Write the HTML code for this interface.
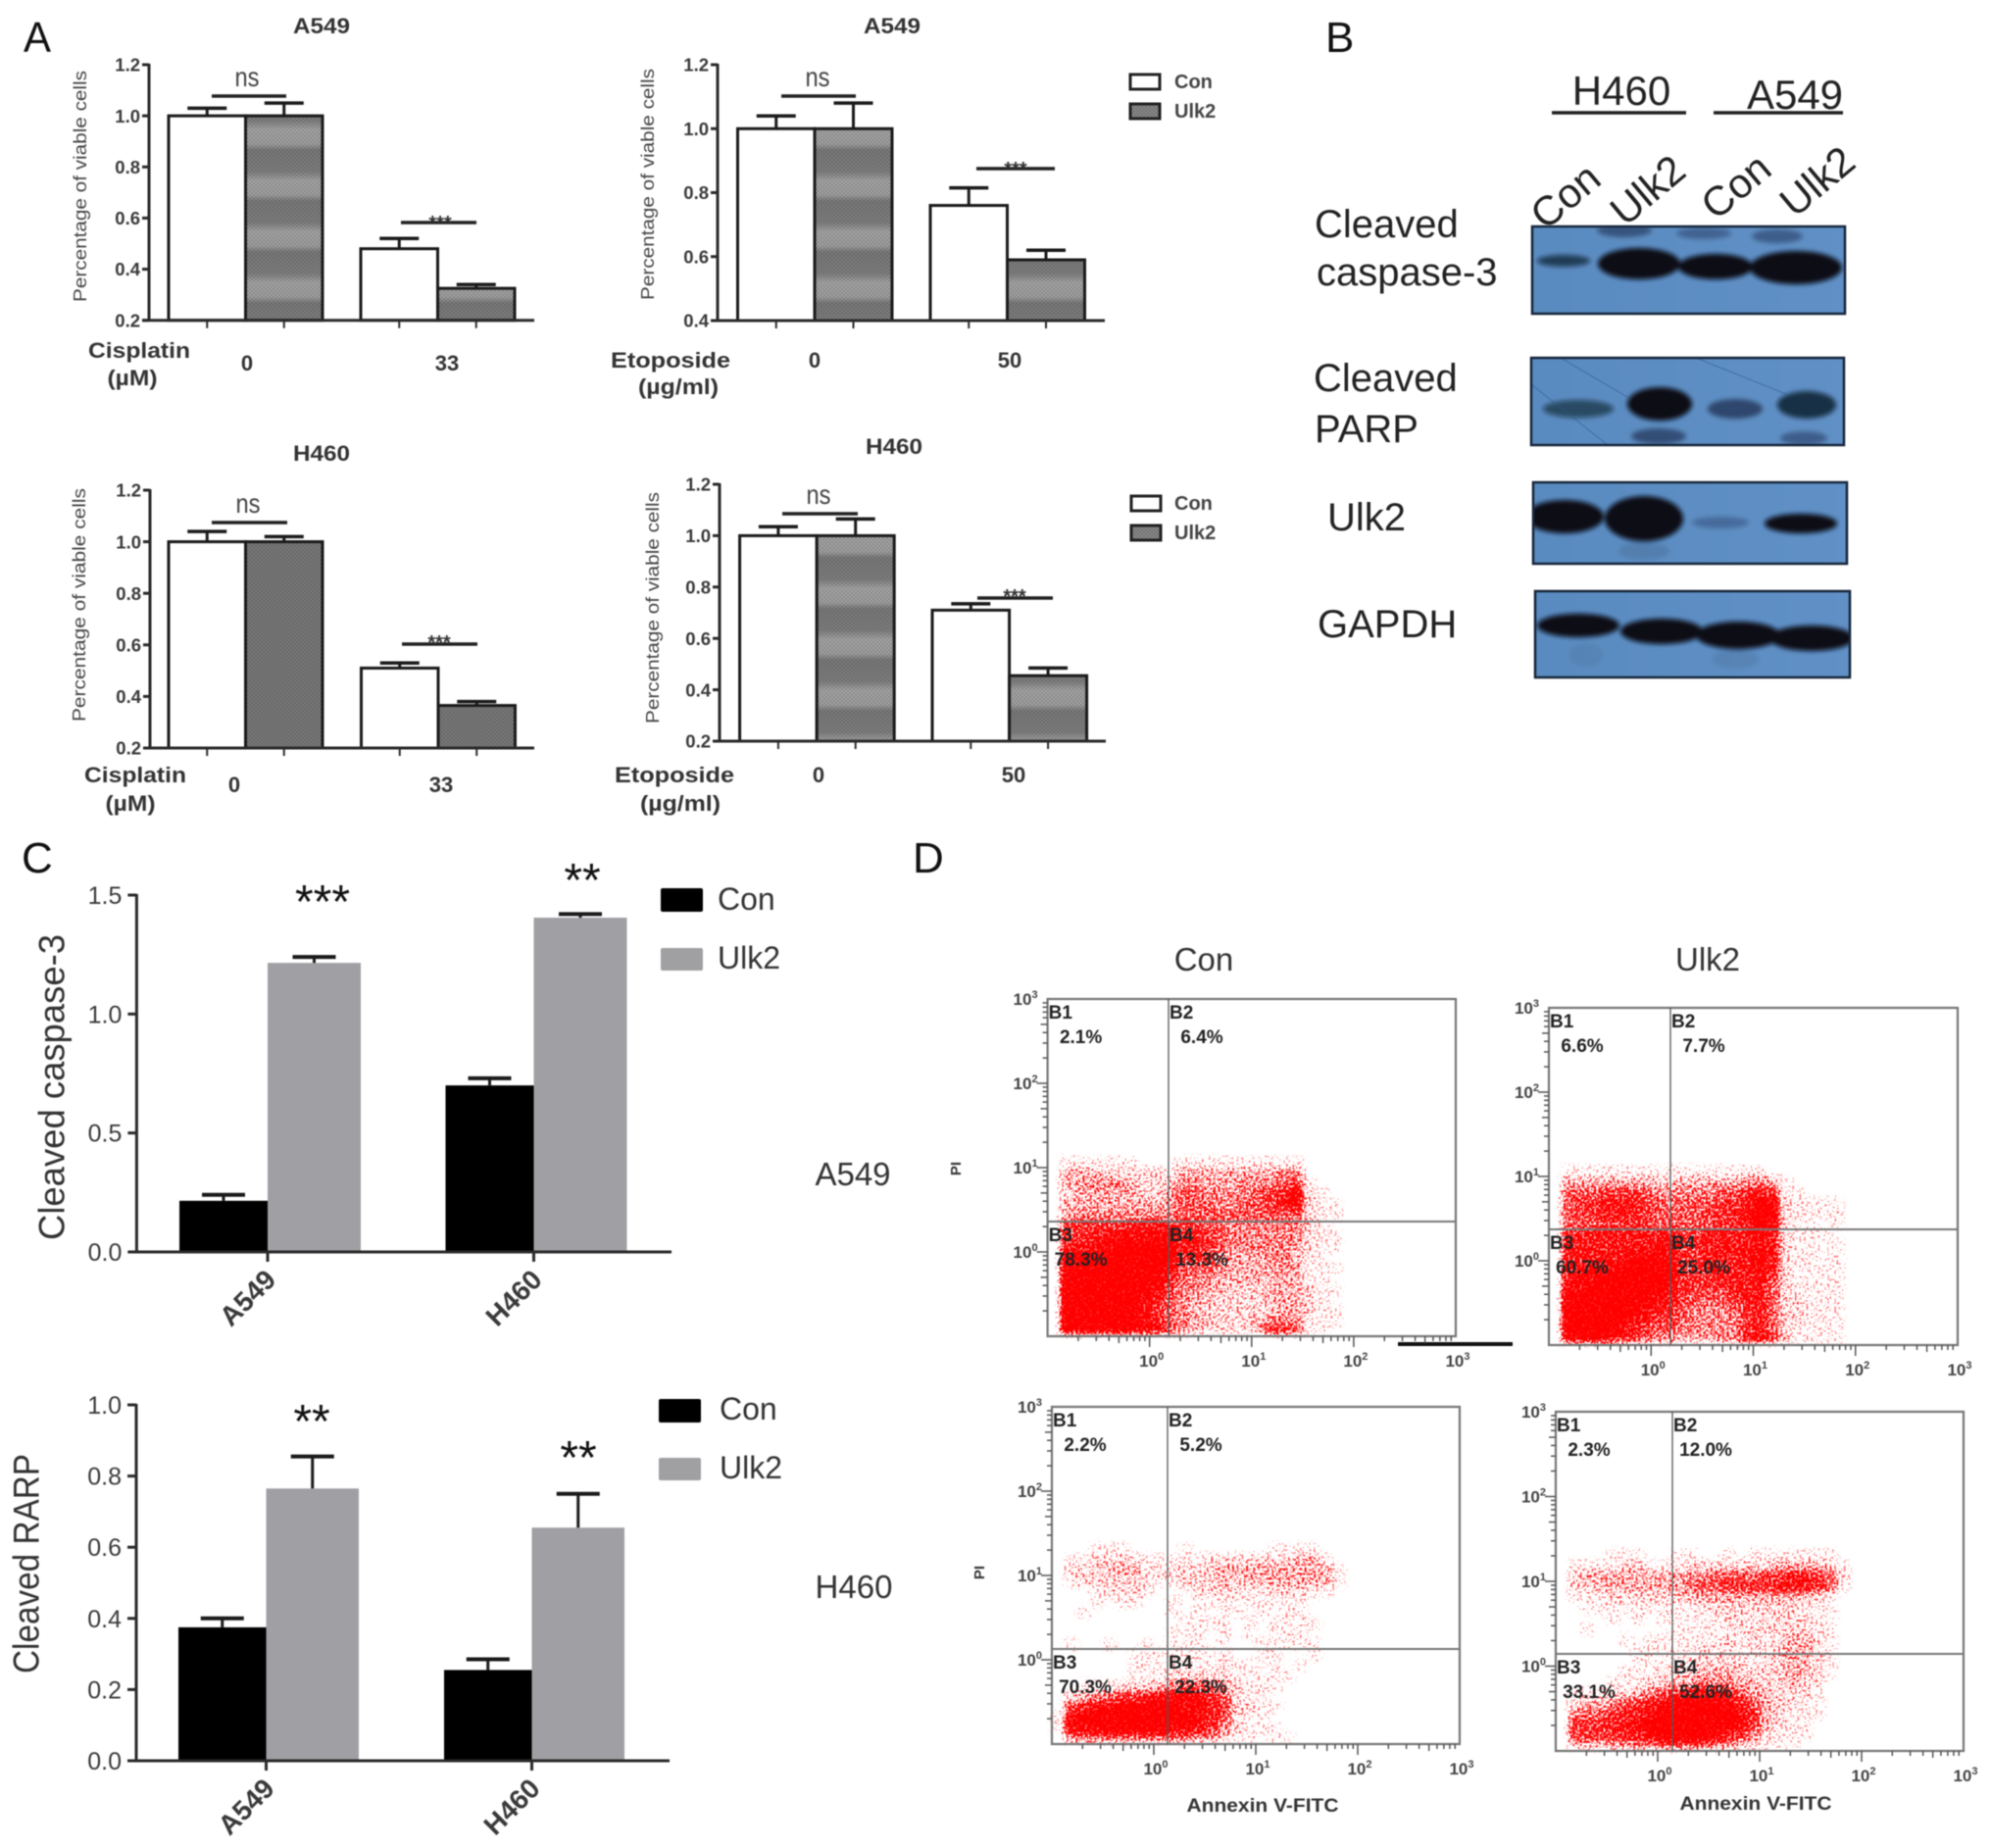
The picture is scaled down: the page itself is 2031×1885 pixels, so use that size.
<!DOCTYPE html>
<html lang="en">
<head>
<meta charset="utf-8">
<title>Ulk2 apoptosis figure</title>
<style>
html,body{margin:0;padding:0;background:#fff;}
#figure{display:block;width:2031px;height:1885px;filter:blur(.55px);font-family:"Liberation Sans",sans-serif;}
.letter{font-size:44px;fill:#111;}
.atitle{font-size:22px;font-weight:bold;fill:#333;text-anchor:middle;}
.aylabel{font-size:18px;fill:#444;text-anchor:middle;}
.alabel{font-size:22px;font-weight:bold;fill:#333;text-anchor:middle;}
.ns{font-size:28px;fill:#444;text-anchor:middle;}
.stars3{font-size:20px;font-weight:bold;fill:#333;text-anchor:middle;}
.alegend{font-size:20px;font-weight:bold;fill:#444;}
.blot-label{font-size:40px;fill:#222;}
.cstars{font-size:48px;fill:#111;text-anchor:middle;}
.clegend{font-size:32px;fill:#333;}
.cside{font-size:33px;fill:#333;text-anchor:middle;}
.cylabel{font-size:37px;fill:#333;text-anchor:middle;}
.dtitle{font-size:33px;fill:#333;text-anchor:middle;}
.dlabel{font-size:19px;font-weight:bold;fill:#333;text-anchor:middle;}
</style>
</head>
<body>
<svg id="figure" width="2031" height="1885" viewBox="0 0 2031 1885">
<defs>
  <linearGradient id="bandGrad" x1="0" y1="0" x2="0" y2="1">
    <stop offset="0" stop-color="#7d7d7d"/><stop offset=".42" stop-color="#828282"/>
    <stop offset=".6" stop-color="#a8a8a8"/><stop offset=".88" stop-color="#a4a4a4"/><stop offset="1" stop-color="#7d7d7d"/>
  </linearGradient>
  <pattern id="bands" width="8" height="52" patternUnits="userSpaceOnUse" patternTransform="translate(0,-3)"><rect width="8" height="52" fill="url(#bandGrad)"/></pattern>
  <pattern id="checker" width="4" height="4" patternUnits="userSpaceOnUse"><rect width="2" height="2" fill="#000" opacity=".18"/><rect x="2" y="2" width="2" height="2" fill="#000" opacity=".18"/></pattern>
  <linearGradient id="blotBg" x1="0" y1="0" x2="1" y2="0"><stop offset="0" stop-color="#5a8bc0"/><stop offset="1" stop-color="#6090c6"/></linearGradient>
  <filter id="bandBlur" x="-20%" y="-50%" width="140%" height="200%"><feGaussianBlur stdDeviation="2.4"/></filter>
  <filter id="speckle" filterUnits="userSpaceOnUse" x="1040" y="1000" width="980" height="800" color-interpolation-filters="sRGB">
    <feGaussianBlur in="SourceGraphic" stdDeviation="3" result="soft"/>
    <feComponentTransfer in="soft" result="mask"><feFuncA type="linear" slope="25"/></feComponentTransfer>
    <feTurbulence type="fractalNoise" baseFrequency="0.42" numOctaves="2" seed="4" result="noise"/>
    <feColorMatrix in="noise" type="matrix" values="0 0 0 0 0 0 0 0 0 0 0 0 0 0 0 2.6 0 0 0 -0.8" result="noiseAlpha"/>
    <feComposite in="soft" in2="noiseAlpha" operator="arithmetic" k1="0" k2="1.3" k3="1" k4="-0.85" result="sum"/>
    <feColorMatrix in="sum" type="matrix" values="0 0 0 0 1 0 0 0 0 0 0 0 0 0 0 0 0 0 1.8 0" result="colored"/>
    <feComposite in="colored" in2="mask" operator="in"/>
  </filter>
  <clipPath id="clip1"><rect x="1563" y="231" width="319" height="89"/></clipPath>
  <clipPath id="clip2"><rect x="1562" y="365" width="319" height="89"/></clipPath>
  <clipPath id="clip3"><rect x="1564" y="492" width="320" height="83"/></clipPath>
  <clipPath id="clip4"><rect x="1566" y="603" width="321" height="88"/></clipPath>
</defs>
<rect width="2031" height="1885" fill="#fff"/>

<!-- Panel letters -->
<text class="letter" x="24" y="53" textLength="28" lengthAdjust="spacingAndGlyphs">A</text>
<text class="letter" x="1352" y="53">B</text>
<text class="letter" x="22" y="890">C</text>
<text class="letter" x="931" y="890">D</text>

<!-- Panel A static labels -->
<g id="panelA-labels">
  <text class="atitle" x="328" y="34" textLength="58" lengthAdjust="spacingAndGlyphs">A549</text>
  <text class="atitle" x="910" y="34" textLength="58" lengthAdjust="spacingAndGlyphs">A549</text>
  <text class="atitle" x="328" y="470" textLength="58" lengthAdjust="spacingAndGlyphs">H460</text>
  <text class="atitle" x="912" y="463" textLength="58" lengthAdjust="spacingAndGlyphs">H460</text>

  <text class="aylabel" transform="translate(88,190) rotate(-90)" textLength="236" lengthAdjust="spacingAndGlyphs">Percentage of viable cells</text>
  <text class="aylabel" transform="translate(667,188) rotate(-90)" textLength="236" lengthAdjust="spacingAndGlyphs">Percentage of viable cells</text>
  <text class="aylabel" transform="translate(87,617) rotate(-90)" textLength="238" lengthAdjust="spacingAndGlyphs">Percentage of viable cells</text>
  <text class="aylabel" transform="translate(672,620) rotate(-90)" textLength="236" lengthAdjust="spacingAndGlyphs">Percentage of viable cells</text>

  <text class="alabel" x="142" y="365" textLength="104" lengthAdjust="spacingAndGlyphs">Cisplatin</text>
  <text class="alabel" x="135" y="393" textLength="51" lengthAdjust="spacingAndGlyphs">(µM)</text>
  <text class="alabel" x="252" y="378">0</text>
  <text class="alabel" x="456" y="378">33</text>

  <text class="alabel" x="684" y="375" textLength="122" lengthAdjust="spacingAndGlyphs">Etoposide</text>
  <text class="alabel" x="692" y="402" textLength="82" lengthAdjust="spacingAndGlyphs">(µg/ml)</text>
  <text class="alabel" x="831" y="375">0</text>
  <text class="alabel" x="1030" y="375">50</text>

  <text class="alabel" x="138" y="798" textLength="104" lengthAdjust="spacingAndGlyphs">Cisplatin</text>
  <text class="alabel" x="133" y="827" textLength="51" lengthAdjust="spacingAndGlyphs">(µM)</text>
  <text class="alabel" x="239" y="808">0</text>
  <text class="alabel" x="450" y="808">33</text>

  <text class="alabel" x="688" y="798" textLength="122" lengthAdjust="spacingAndGlyphs">Etoposide</text>
  <text class="alabel" x="694" y="827" textLength="82" lengthAdjust="spacingAndGlyphs">(µg/ml)</text>
  <text class="alabel" x="835" y="798">0</text>
  <text class="alabel" x="1034" y="798">50</text>

  <!-- significance -->
  <g stroke="#222" stroke-width="3.5">
    <line x1="216" y1="98" x2="292" y2="98"/>
    <line x1="409" y1="227" x2="486" y2="227"/>
    <line x1="797" y1="98" x2="873" y2="98"/>
    <line x1="996" y1="172" x2="1076" y2="172"/>
    <line x1="216" y1="533" x2="293" y2="533"/>
    <line x1="410" y1="657" x2="487" y2="657"/>
    <line x1="798" y1="524" x2="875" y2="524"/>
    <line x1="997" y1="610" x2="1074" y2="610"/>
  </g>
  <text class="ns" x="252" y="88" textLength="25" lengthAdjust="spacingAndGlyphs">ns</text>
  <text class="ns" x="834" y="88" textLength="25" lengthAdjust="spacingAndGlyphs">ns</text>
  <text class="ns" x="253" y="523" textLength="25" lengthAdjust="spacingAndGlyphs">ns</text>
  <text class="ns" x="835" y="514" textLength="25" lengthAdjust="spacingAndGlyphs">ns</text>
  <text class="stars3" x="449" y="234">***</text>
  <text class="stars3" x="1036" y="179">***</text>
  <text class="stars3" x="448" y="662">***</text>
  <text class="stars3" x="1035" y="615">***</text>

  <!-- legends -->
  <g>
    <rect x="1153" y="76" width="30" height="15" fill="#fff" stroke="#222" stroke-width="3"/>
    <text class="alegend" x="1198" y="90">Con</text>
    <rect x="1153" y="106" width="30" height="15" fill="#8a8a8a" stroke="#222" stroke-width="3"/>
    <rect x="1153" y="106" width="30" height="15" fill="url(#checker)"/>
    <text class="alegend" x="1198" y="120">Ulk2</text>
  </g>
  <g>
    <rect x="1154" y="506" width="30" height="15" fill="#fff" stroke="#222" stroke-width="3"/>
    <text class="alegend" x="1198" y="520">Con</text>
    <rect x="1154" y="536" width="30" height="15" fill="#8a8a8a" stroke="#222" stroke-width="3"/>
    <rect x="1154" y="536" width="30" height="15" fill="url(#checker)"/>
    <text class="alegend" x="1198" y="550">Ulk2</text>
  </g>
</g>

<!-- Panel B -->
<g id="panelB">
  <text x="1654" y="107" font-size="42" fill="#222" text-anchor="middle">H460</text>
  <text x="1831" y="111" font-size="42" fill="#222" text-anchor="middle">A549</text>
  <line x1="1583" y1="115" x2="1720" y2="115" stroke="#222" stroke-width="3.5"/>
  <line x1="1748" y1="115" x2="1880" y2="115" stroke="#222" stroke-width="3.5"/>
  <text transform="translate(1606,211) rotate(-40)" font-size="42" fill="#222" text-anchor="middle">Con</text>
  <text transform="translate(1690,205) rotate(-40)" font-size="42" fill="#222" text-anchor="middle">Ulk2</text>
  <text transform="translate(1780,201) rotate(-40)" font-size="42" fill="#222" text-anchor="middle">Con</text>
  <text transform="translate(1863,196) rotate(-40)" font-size="42" fill="#222" text-anchor="middle">Ulk2</text>

  <text class="blot-label" x="1341" y="242">Cleaved</text>
  <text class="blot-label" x="1343" y="291">caspase-3</text>
  <text class="blot-label" x="1340" y="399">Cleaved</text>
  <text class="blot-label" x="1341" y="451">PARP</text>
  <text class="blot-label" x="1354" y="541">Ulk2</text>
  <text class="blot-label" x="1344" y="650">GAPDH</text>

  <rect x="1563" y="231" width="319" height="89" fill="url(#blotBg)"/>
  <g clip-path="url(#clip1)"><g filter="url(#bandBlur)" fill="#070c18">
    <ellipse cx="1595" cy="266" rx="27" ry="6" opacity=".65"/><ellipse cx="1672" cy="269" rx="42" ry="16"/>
    <ellipse cx="1750" cy="272" rx="38" ry="13"/><ellipse cx="1832" cy="273" rx="47" ry="17"/>
    <ellipse cx="1657" cy="235" rx="28" ry="7" opacity=".4"/><ellipse cx="1738" cy="238" rx="28" ry="6" opacity=".3"/><ellipse cx="1813" cy="241" rx="26" ry="7" opacity=".35"/>
  </g></g>
  <rect x="1563" y="231" width="319" height="89" fill="none" stroke="#16263a" stroke-width="2.5"/>

  <rect x="1562" y="365" width="319" height="89" fill="url(#blotBg)"/>
  <g clip-path="url(#clip2)"><g filter="url(#bandBlur)" fill="#070c18">
    <ellipse cx="1610" cy="417" rx="36" ry="9" opacity=".55"/><ellipse cx="1693" cy="412" rx="33" ry="17"/>
    <ellipse cx="1770" cy="417" rx="28" ry="10" opacity=".5"/><ellipse cx="1843" cy="413" rx="30" ry="14" opacity=".75"/>
    <ellipse cx="1692" cy="445" rx="28" ry="8" opacity=".45"/><ellipse cx="1840" cy="447" rx="24" ry="7" opacity=".35"/>
  </g>
  <path d="M1562 392 L1640 454 M1592 365 L1660 405 M1730 365 L1822 402" stroke="#2c5a90" stroke-width="1" fill="none" opacity=".6"/></g>
  <rect x="1562" y="365" width="319" height="89" fill="none" stroke="#16263a" stroke-width="2.5"/>

  <rect x="1564" y="492" width="320" height="83" fill="url(#blotBg)"/>
  <g clip-path="url(#clip3)"><g filter="url(#bandBlur)" fill="#070c18">
    <ellipse cx="1596" cy="527" rx="40" ry="17"/><ellipse cx="1677" cy="529" rx="40" ry="23"/>
    <ellipse cx="1755" cy="533" rx="29" ry="6" opacity=".25"/><ellipse cx="1837" cy="534" rx="37" ry="10"/>
    <ellipse cx="1677" cy="562" rx="26" ry="9" opacity=".1"/>
  </g></g>
  <rect x="1564" y="492" width="320" height="83" fill="none" stroke="#16263a" stroke-width="2.5"/>

  <rect x="1566" y="603" width="321" height="88" fill="url(#blotBg)"/>
  <g clip-path="url(#clip4)"><g filter="url(#bandBlur)" fill="#070c18">
    <ellipse cx="1610" cy="638" rx="42" ry="12"/><ellipse cx="1695" cy="644" rx="42" ry="13"/>
    <ellipse cx="1773" cy="648" rx="43" ry="14"/><ellipse cx="1848" cy="651" rx="43" ry="13"/>
    <ellipse cx="1618" cy="668" rx="18" ry="12" opacity=".06"/><ellipse cx="1770" cy="672" rx="24" ry="10" opacity=".08"/>
  </g></g>
  <rect x="1566" y="603" width="321" height="88" fill="none" stroke="#16263a" stroke-width="2.5"/>
</g>

<!-- Panel C static -->
<g id="panelC-labels">
  <text class="cylabel" transform="translate(65.5,1109) rotate(-90)" textLength="312" lengthAdjust="spacingAndGlyphs">Cleaved caspase-3</text>
  <text class="cylabel" transform="translate(39.5,1595) rotate(-90)" textLength="224" lengthAdjust="spacingAndGlyphs">Cleaved RARP</text>
  <text class="cstars" x="329" y="936">***</text>
  <text class="cstars" x="594" y="914">**</text>
  <text class="cstars" x="318" y="1466">**</text>
  <text class="cstars" x="590" y="1503">**</text>

  <rect x="674" y="906" width="43" height="24" rx="2" fill="#000"/>
  <text class="clegend" x="732" y="928">Con</text>
  <rect x="674" y="967" width="43" height="23" rx="2" fill="#a0a0a2"/>
  <text class="clegend" x="732" y="988">Ulk2</text>
  <rect x="672" y="1427" width="43" height="24" rx="2" fill="#000"/>
  <text class="clegend" x="734" y="1448">Con</text>
  <rect x="672" y="1487" width="43" height="23" rx="2" fill="#a0a0a2"/>
  <text class="clegend" x="734" y="1508">Ulk2</text>

  <text class="cside" x="870" y="1209">A549</text>
  <text class="cside" x="871" y="1630">H460</text>
</g>

<!-- Panel D static -->
<g id="panelD-labels">
  <text class="dtitle" x="1228" y="990">Con</text>
  <text class="dtitle" x="1742" y="990">Ulk2</text>
  <text transform="translate(980,1192) rotate(-90)" font-size="15" font-weight="bold" fill="#333" text-anchor="middle">PI</text>
  <text transform="translate(1004,1604) rotate(-90)" font-size="15" font-weight="bold" fill="#333" text-anchor="middle">PI</text>
  <text class="dlabel" x="1288" y="1848" textLength="155" lengthAdjust="spacingAndGlyphs">Annexin V-FITC</text>
  <text class="dlabel" x="1791" y="1846" textLength="155" lengthAdjust="spacingAndGlyphs">Annexin V-FITC</text>
  <line x1="1426" y1="1371" x2="1543" y2="1371" stroke="#111" stroke-width="4"/>
</g>

<g id="charts"></g>
</svg>

<script>
/* ---------- Panel A data ---------- */
const barCategories = ['Con', 'Ulk2', 'Con', 'Ulk2'];
const a549CisplatinValues = [1.0, 1.0, 0.48, 0.325];
const a549CisplatinErrors = [1.03, 1.05, 0.52, 0.34];
const a549EtoposideValues = [1.0, 1.0, 0.76, 0.59];
const a549EtoposideErrors = [1.04, 1.08, 0.815, 0.62];
const h460CisplatinValues = [1.0, 1.0, 0.51, 0.365];
const h460CisplatinErrors = [1.04, 1.02, 0.53, 0.38];
const h460EtoposideValues = [1.0, 1.0, 0.71, 0.455];
const h460EtoposideErrors = [1.035, 1.065, 0.735, 0.485];
const yTicksCisplatin = [0.2, 0.4, 0.6, 0.8, 1.0, 1.2];
const yTicksEtoposideA549 = [0.4, 0.6, 0.8, 1.0, 1.2];
const yTicksEtoposideH460 = [0.2, 0.4, 0.6, 0.8, 1.0, 1.2];

/* ---------- Panel C data ---------- */
const cellLines = ['A549', 'H460'];
const caspaseValues = [0.215, 1.215, 0.70, 1.405];
const caspaseErrors = [0.24, 1.24, 0.73, 1.42];
const rarpValues = [0.375, 0.765, 0.255, 0.655];
const rarpErrors = [0.40, 0.855, 0.285, 0.75];
const yTicksCaspase = [0.0, 0.5, 1.0, 1.5];
const yTicksRarp = [0.0, 0.2, 0.4, 0.6, 0.8, 1.0];

/* ---------- Panel D data: cell density, scale 0-9.
   Columns step 1/8 decade from 10^-1; rows step 1/8 decade down from 10^1.5 */
const logTickExponents = [0, 1, 2, 3];
const quadrantNames = ['B1', 'B2', 'B3', 'B4'];
const quadrantA549Con = ['2.1%', '6.4%', '78.3%', '13.3%'];
const quadrantA549Ulk2 = ['6.6%', '7.7%', '60.7%', '25.0%'];
const quadrantH460Con = ['2.2%', '5.2%', '70.3%', '22.3%'];
const quadrantH460Ulk2 = ['2.3%', '12.0%', '33.1%', '52.6%'];

const densityA549Con = [
[0,0,0,0,0,0,0,0,0,0,0,0,0,0,0,0,0,0,0,0,0,0,0,0],
[0,0,0,0,0,0,0,0,0,0,0,0,0,0,0,0,0,0,0,0,0,0,0,0],
[0,0,0,0,0,0,0,0,0,0,0,0,0,0,0,0,0,0,0,0,0,0,0,0],
[0,1,1,1,1,1,1,0,0,0,1,1,1,1,1,1,1,1,1,1,0,0,0,0],
[0,3,3,3,2,2,2,2,2,1,3,3,3,3,3,3,3,3,4,4,0,0,0,0],
[0,3,3,4,4,4,3,2,2,2,4,4,3,3,3,4,4,4,5,6,1,0,0,0],
[0,2,3,3,3,3,3,2,2,3,5,5,4,4,4,4,5,6,7,8,2,1,0,0],
[0,3,3,3,3,3,3,3,3,3,5,5,5,4,4,5,5,6,7,8,2,1,1,0],
[0,3,4,4,4,4,4,4,4,4,5,5,5,5,5,5,5,5,5,5,2,1,1,0],
[0,6,6,6,6,6,7,7,7,7,6,6,5,5,4,4,4,4,4,4,2,1,0,0],
[0,6,6,7,7,8,8,8,8,8,7,7,6,5,4,4,4,4,4,4,2,1,1,0],
[0,7,7,8,8,9,9,9,9,9,7,7,6,5,4,4,4,4,4,3,2,1,1,0],
[0,9,9,9,9,9,9,9,9,9,6,6,6,4,3,3,3,4,4,3,1,1,0,0],
[0,9,9,9,9,9,9,9,9,8,5,5,5,4,3,3,3,3,4,3,1,1,1,0],
[0,9,9,9,9,9,9,9,9,7,5,4,4,3,3,3,3,3,3,3,1,1,0,0],
[0,9,9,9,9,9,9,9,8,6,4,4,3,3,2,2,2,3,3,3,2,1,1,0],
[0,9,9,9,9,9,9,8,7,5,4,3,3,2,2,2,2,3,3,3,2,1,0,0],
[0,9,9,9,9,9,9,8,6,5,4,3,2,2,2,2,2,2,3,3,2,1,1,0],
[0,9,9,9,9,9,9,8,7,5,4,3,3,2,2,2,3,4,4,4,1,1,1,0],
[0,9,9,9,9,9,9,8,8,6,4,3,2,2,2,2,3,7,7,5,1,1,0,0]];

const densityA549Ulk2 = [
[0,0,0,0,0,0,0,0,0,0,0,0,0,0,0,0,0,0,0,0,0,0,0,0],
[0,0,0,0,0,0,0,0,0,0,0,0,0,0,0,0,0,0,0,0,0,0,0,0],
[0,0,0,0,0,0,0,0,0,0,0,0,0,0,0,0,0,0,0,0,0,0,0,0],
[0,1,1,1,1,1,1,1,1,1,1,1,1,1,1,1,1,0,0,0,0,0,0,0],
[0,3,3,3,3,3,3,3,2,2,3,3,3,3,3,4,4,3,1,0,0,0,0,0],
[0,5,5,5,6,6,6,5,4,4,4,4,4,5,5,6,7,6,1,1,0,0,0,0],
[0,5,6,6,7,7,7,6,5,4,5,5,5,6,6,7,9,8,2,1,1,1,1,0],
[0,5,6,6,7,7,7,6,5,5,5,5,6,6,7,8,9,9,2,1,1,1,1,0],
[0,5,5,5,6,6,6,6,5,5,5,5,5,6,6,7,9,8,2,1,1,0,1,0],
[0,6,7,7,7,7,7,7,7,7,6,6,7,7,7,7,8,7,2,1,1,1,0,0],
[0,7,7,7,7,7,7,7,8,8,6,6,7,7,7,7,8,7,2,1,1,1,1,0],
[0,7,7,7,7,7,8,8,8,8,6,6,7,7,7,7,8,7,2,1,1,0,1,0],
[0,7,7,8,8,8,9,9,9,9,6,6,7,7,7,7,8,7,2,1,1,1,1,0],
[0,7,8,8,9,9,9,9,9,9,6,6,6,7,7,7,8,6,2,1,1,1,1,0],
[0,8,8,9,9,9,9,9,9,8,6,6,6,6,7,7,7,5,2,1,1,1,1,0],
[0,9,9,9,9,9,9,9,8,7,6,5,5,5,6,7,7,5,2,2,1,1,1,0],
[0,9,9,9,9,9,9,8,7,7,5,4,4,4,5,6,7,5,2,2,1,1,1,0],
[0,9,9,9,9,9,8,7,6,6,5,4,4,4,4,6,7,5,2,2,1,1,1,0],
[0,9,9,9,9,8,7,6,5,5,4,4,4,4,4,6,7,5,2,1,1,1,1,0],
[0,8,9,9,8,7,6,5,4,4,3,3,3,4,4,7,8,6,3,1,1,1,1,0]];

const densityH460Con = [
[0,0,0,0,0,0,0,0,0,0,0,0,0,0,0,0,0,0,0,0,0,0,0,0],
[0,0,0,1,1,1,0,0,0,0,1,0,0,0,0,0,0,1,1,1,1,0,0,0],
[0,1,1,2,2,2,2,1,1,1,1,1,2,2,2,2,2,2,2,3,3,1,0,0],
[0,2,2,2,3,3,3,1,2,2,2,2,2,3,3,3,3,3,3,3,3,3,1,0],
[0,1,2,2,2,2,2,2,1,1,2,2,2,3,2,3,3,3,3,3,3,3,1,0],
[0,0,0,1,2,2,2,1,0,0,1,2,2,2,2,1,1,2,2,2,1,1,0,0],
[0,0,0,1,0,1,1,0,0,1,0,1,1,1,1,1,1,1,1,1,0,0,0,0],
[0,0,1,0,0,0,0,0,0,1,0,1,0,1,1,0,1,0,1,1,0,0,0,0],
[0,0,0,0,0,0,0,0,0,0,1,1,1,1,0,1,0,1,1,1,1,0,0,0],
[0,0,0,0,0,0,0,0,0,1,1,1,0,1,0,1,0,1,1,1,0,0,0,0],
[0,1,0,0,1,0,0,1,0,1,1,1,0,1,0,0,1,1,1,1,1,0,0,0],
[0,0,0,0,0,0,1,1,1,1,1,1,1,1,0,0,1,1,0,0,1,0,0,0],
[0,0,0,0,0,0,1,1,1,1,1,1,1,2,1,1,0,1,0,1,0,0,0,0],
[0,0,0,0,0,0,1,1,1,2,2,2,2,2,1,1,1,1,1,0,0,0,0,0],
[0,0,1,1,1,2,2,2,3,4,5,5,5,3,2,1,1,1,0,0,0,0,0,0],
[0,2,3,4,5,6,6,7,8,8,8,8,6,5,2,1,1,0,0,0,0,0,0,0],
[0,6,7,8,8,9,9,9,9,9,8,8,7,6,2,2,1,1,0,0,0,0,0,0],
[1,8,9,9,9,9,9,9,9,9,9,8,7,5,2,1,1,0,0,0,0,0,0,0],
[1,8,8,8,9,9,9,9,9,8,8,7,6,4,2,1,1,1,0,0,0,0,0,0],
[0,4,5,5,5,5,5,5,5,5,5,4,4,2,1,1,0,1,1,0,0,0,0,0]];

const densityH460Ulk2 = [
[0,0,0,0,0,0,0,0,0,0,0,0,0,0,0,0,0,0,0,0,0,0,0,0],
[0,0,0,0,1,1,1,0,0,1,1,0,0,1,0,1,1,1,1,1,1,1,0,0],
[0,1,1,1,1,2,2,1,1,1,2,2,2,2,2,2,2,3,3,3,3,2,1,0],
[0,2,3,3,3,3,3,3,3,3,4,4,5,5,5,5,6,6,7,7,6,5,2,0],
[0,2,2,3,3,3,3,3,3,3,4,5,5,6,6,6,6,7,7,7,6,5,1,0],
[0,1,1,1,2,2,2,2,2,2,3,3,3,3,3,3,3,3,3,3,2,1,0,0],
[0,0,1,1,1,1,1,1,1,1,1,1,2,2,2,2,2,2,2,1,1,1,0,0],
[0,0,0,0,1,0,1,0,1,1,1,1,1,2,2,1,2,2,2,2,1,1,0,0],
[0,0,1,0,0,0,0,0,0,1,1,1,1,1,2,2,2,2,2,2,1,1,0,0],
[0,0,0,0,0,1,0,1,1,1,1,1,1,2,1,2,1,2,3,3,2,1,0,0],
[0,0,0,0,0,0,1,1,1,1,1,2,2,2,1,2,2,2,3,3,2,1,0,0],
[0,0,0,0,0,0,1,1,1,1,2,2,2,2,2,1,2,2,3,3,2,1,0,0],
[0,0,0,0,0,1,1,1,2,2,2,3,3,3,2,2,2,2,3,3,2,1,0,0],
[0,0,0,0,1,1,1,2,2,3,3,4,4,4,3,3,2,2,3,2,2,0,0,0],
[0,1,1,1,2,2,3,4,5,6,7,8,7,6,5,3,3,2,2,2,1,0,0,0],
[0,2,3,3,4,5,6,7,8,9,9,9,9,8,7,5,3,2,2,1,1,0,0,0],
[0,4,5,5,6,7,7,8,9,9,9,9,9,9,8,6,3,2,1,1,1,0,0,0],
[0,6,6,6,7,7,8,9,9,9,9,9,9,9,8,6,3,2,1,1,0,0,0,0],
[0,6,6,6,6,7,7,8,9,9,9,9,8,7,6,4,2,1,1,1,0,0,0,0],
[0,3,3,3,4,4,5,5,6,6,6,6,5,4,3,2,1,1,1,0,0,0,0,0]];

/* ---------- Drawing ---------- */
const figure = document.getElementById('figure');
const NS = figure.namespaceURI;
const root = document.getElementById('charts');

function make(tag, attrs, parent) {
  const node = document.createElementNS(NS, tag);
  for (const k in attrs) node.setAttribute(k, attrs[k]);
  parent.appendChild(node);
  return node;
}
function linearScale(domainMin, domainMax, pxMin, pxMax) {
  return v => pxMin + (v - domainMin) / (domainMax - domainMin) * (pxMax - pxMin);
}

function drawBarChart(name, frame, values, errors, ticks, style) {
  const g = make('g', {}, root);
  
  
  const y = linearScale(ticks[0], ticks[ticks.length - 1], frame.bottom, frame.top);
  const edge = i => frame.left + Math.floor(i / 2) * frame.pitch + (i % 2 ? frame.w0 : 0);
  const width = i => (i % 2 ? frame.w1 : frame.w0);

  values.forEach((v, i) => {
    const x = edge(i);
    const w = width(i);
    const top = y(v);
    const mid = x + w / 2;
    const isUlk2 = i % 2 === 1;
    const fill = style.filled
      ? (isUlk2 ? '#a0a0a4' : '#000')
      : (isUlk2 ? style.hatch : '#fff');
    const bar = make('rect', {x: x, y: top, width: w, height: frame.bottom - top, fill: fill}, g);
    
    
    if (!style.filled && isUlk2) {
      const tex = make('rect', {x: x, y: top, width: w, height: frame.bottom - top, fill: 'url(#checker)'}, g);
      
      
    }
    if (!style.filled) {
      const outline = make('rect', {x: x, y: top, width: w, height: frame.bottom - top, fill: 'none', stroke: '#1a1a1a', 'stroke-width': 3}, g);
      
      
    }
    const errTop = y(errors[i]);
    const stem = make('line', {x1: mid, x2: mid, y1: top, y2: errTop, stroke: '#1a1a1a', 'stroke-width': 3}, g);
    
    
    const cap = make('line', {x1: mid - style.cap, x2: mid + style.cap, y1: errTop, y2: errTop, stroke: '#1a1a1a', 'stroke-width': style.capW}, g);
    
    
  });

  const yAxis = make('line', {x1: frame.axis, x2: frame.axis, y1: frame.top - 1, y2: frame.bottom, stroke: '#2a2a2a', 'stroke-width': style.axisW}, g);
  
  
  const xAxis = make('line', {x1: frame.axis - style.tickLen, x2: frame.end, y1: frame.bottom, y2: frame.bottom, stroke: '#2a2a2a', 'stroke-width': style.axisW}, g);
  
  

  ticks.forEach(t => {
    const py = y(t);
    const tick = make('line', {x1: frame.axis - style.tickLen, x2: frame.axis, y1: py, y2: py, stroke: '#2a2a2a', 'stroke-width': style.axisW}, g);
    
    
    const label = make('text', {x: frame.axis - style.tickLen - style.labelGap, y: py + style.tickSize * 0.36, 'font-size': style.tickSize, 'font-weight': style.filled ? 'normal' : 'bold', fill: '#3a3a3a', 'text-anchor': 'end'}, g);
    label.textContent = t.toFixed(1);
    
    
  });

  if (style.filled) {
    cellLines.forEach((c, k) => {
      const tx = edge(k * 2 + 1);
      const tick = make('line', {x1: tx, x2: tx, y1: frame.bottom, y2: frame.bottom + 10, stroke: '#2a2a2a', 'stroke-width': 3}, g);
      
      
      const label = make('text', {transform: 'translate(' + (tx + 10) + ',' + (frame.bottom + 30) + ') rotate(-45)', 'font-size': 28, 'font-weight': 'bold', fill: '#3a3a3a', 'text-anchor': 'end'}, g);
      label.textContent = c;
      
      
    });
  } else {
    values.forEach((v, i) => {
      const tx = edge(i) + width(i) / 2;
      const tick = make('line', {x1: tx, x2: tx, y1: frame.bottom, y2: frame.bottom + 8, stroke: '#2a2a2a', 'stroke-width': 2}, g);
      
      
    });
  }
}

const styleA = {filled: false, hatch: 'url(#bands)', cap: 20, capW: 3.5, axisW: 3, tickLen: 7, labelGap: 2, tickSize: 18.5};
const styleADark = {filled: false, hatch: '#7c7c7c', cap: 20, capW: 3.5, axisW: 3, tickLen: 7, labelGap: 2, tickSize: 18.5};
const styleC = {filled: true, cap: 22, capW: 4, axisW: 3, tickLen: 9, labelGap: 6, tickSize: 25};

drawBarChart('chart-a549-cisplatin', {axis: 152, top: 66, bottom: 326.7, end: 545, left: 172, w0: 78.5, w1: 78.5, pitch: 196}, a549CisplatinValues, a549CisplatinErrors, yTicksCisplatin, styleA);
drawBarChart('chart-a549-etoposide', {axis: 732, top: 66, bottom: 327, end: 1127, left: 752.5, w0: 78.5, w1: 79, pitch: 196.5}, a549EtoposideValues, a549EtoposideErrors, yTicksEtoposideA549, styleA);
drawBarChart('chart-h460-cisplatin', {axis: 153, top: 500, bottom: 763, end: 545, left: 172, w0: 78.5, w1: 78.5, pitch: 196.5}, h460CisplatinValues, h460CisplatinErrors, yTicksCisplatin, styleADark);
drawBarChart('chart-h460-etoposide', {axis: 734, top: 494, bottom: 756, end: 1128, left: 754.6, w0: 78.6, w1: 79, pitch: 196.4}, h460EtoposideValues, h460EtoposideErrors, yTicksEtoposideH460, styleA);
drawBarChart('chart-cleaved-caspase', {axis: 139.4, top: 913, bottom: 1277, end: 685, left: 183, w0: 90, w1: 95, pitch: 271.5}, caspaseValues, caspaseErrors, yTicksCaspase, styleC);
drawBarChart('chart-cleaved-rarp', {axis: 139, top: 1433, bottom: 1796, end: 683, left: 182, w0: 89.5, w1: 94.5, pitch: 271}, rarpValues, rarpErrors, yTicksRarp, styleC);

function drawFlowPlot(name, p, density, percents) {
  const g = make('g', {}, root);
  
  
  const x = linearScale(-1, 3, p.left, p.right);
  const y = linearScale(-1, 3, p.bottom, p.top);

  const cloud = make('g', {filter: 'url(#speckle)'}, g);
  
  
  density.forEach((row, r) => {
    row.forEach((v, c) => {
      if (!v) return;
      const x0 = x(-1 + c / 8), x1 = x(-1 + (c + 1) / 8);
      const y0 = y(1.5 - r / 8), y1 = y(1.5 - (r + 1) / 8);
      const cell = make('rect', {x: x0, y: y0, width: x1 - x0 + 0.5, height: Math.min(y1, p.bottom - 3) - y0 + 0.5, fill: '#f00', opacity: v / 9}, cloud);
      
      
    });
  });

  const frame = make('path', {d: 'M' + p.right + ' ' + p.top + 'H' + p.left + 'V' + p.bottom + 'H' + p.right + 'Z', fill: 'none', stroke: '#777', 'stroke-width': 2.2}, g);
  
  
  const vGate = make('line', {x1: p.vGate, x2: p.vGate, y1: p.top, y2: p.bottom, stroke: '#555', 'stroke-width': 1.3}, g);
  
  
  const hGate = make('line', {x1: p.left, x2: p.right, y1: p.hGate, y2: p.hGate, stroke: '#777', 'stroke-width': 2}, g);
  
  

  for (let d = -1; d < 3; d++) {
    for (let k = 1; k < 10; k++) {
      const pos = d + Math.log10(k);
      const major = k === 1;
      if (major && d === -1) continue;
      const len = major ? 11 : (k === 5 ? 7 : 5);
      const tx = x(pos);
      const xt = make('line', {x1: tx, x2: tx, y1: p.bottom, y2: p.bottom + len, stroke: '#555', 'stroke-width': 1.5}, g);
      
      
      const ty = y(pos);
      const yt = make('line', {x1: p.left - len, x2: p.left, y1: ty, y2: ty, stroke: '#555', 'stroke-width': 1.5}, g);
      
      
    }
  }

  logTickExponents.forEach(e => {
    const xl = make('text', {x: x(e) + 2, y: p.bottom + 31, 'font-size': 17, 'font-weight': 'bold', fill: '#444', 'text-anchor': 'middle'}, g);
    
    
    xl.textContent = '10';
    const xs = make('tspan', {dy: -7, 'font-size': 11}, xl);
    xs.textContent = e;
    const yl = make('text', {x: p.left - 10, y: y(e) + 6, 'font-size': 17, 'font-weight': 'bold', fill: '#444', 'text-anchor': 'end'}, g);
    
    
    yl.textContent = '10';
    const ys = make('tspan', {dy: -7, 'font-size': 11}, yl);
    ys.textContent = e;
  });

  quadrantNames.forEach((q, i) => {
    const qx = i % 2 ? p.vGate : p.left;
    const qy = i < 2 ? p.top : p.hGate;
    const nameText = make('text', {x: qx + 1, y: qy + 20, 'font-size': 19, 'font-weight': 'bold', fill: '#222'}, g);
    nameText.textContent = q;
    
    
    const pct = make('text', {x: qx + 34, y: qy + 45, 'font-size': 19, 'font-weight': 'bold', fill: '#222', 'text-anchor': 'middle'}, g);
    pct.textContent = percents[i];
    
    
  });
}

drawFlowPlot('flow-plot-a549-con', {left: 1068.6, right: 1485, top: 1019, bottom: 1363, vGate: 1192, hGate: 1246}, densityA549Con, quadrantA549Con);
drawFlowPlot('flow-plot-a549-ulk2', {left: 1580, right: 1997, top: 1028, bottom: 1372, vGate: 1704, hGate: 1254}, densityA549Ulk2, quadrantA549Ulk2);
drawFlowPlot('flow-plot-h460-con', {left: 1073, right: 1489, top: 1435, bottom: 1779, vGate: 1191, hGate: 1682}, densityH460Con, quadrantH460Con);
drawFlowPlot('flow-plot-h460-ulk2', {left: 1587, right: 2003, top: 1440, bottom: 1786, vGate: 1706, hGate: 1687}, densityH460Ulk2, quadrantH460Ulk2);
</script>
</body>
</html>
